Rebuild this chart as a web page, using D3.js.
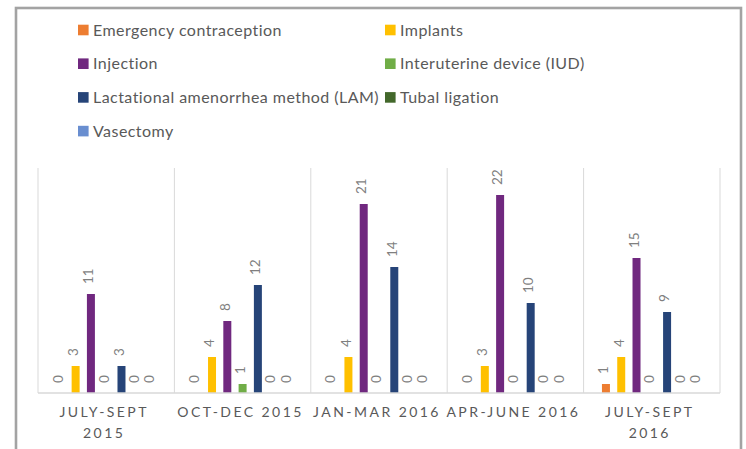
<!DOCTYPE html>
<html lang="en">
<head>
<meta charset="UTF-8">
<title>Contraception methods by quarter</title>
<script src="https://d3js.org/d3.v7.min.js"></script>
<style>
    body { margin: 0; background: #fff; }
    text { font-family: Lato, "Open Sans", sans-serif; }
</style>
</head>
<body>
<script>
    // data
    const quarters = [["JULY-SEPT", "2015"], ["OCT-DEC 2015"], ["JAN-MAR 2016"], ["APR-JUNE 2016"], ["JULY-SEPT", "2016"]];
    const seriesNames = ["Emergency contraception", "Implants", "Injection", "Interuterine device (IUD)",
        "Lactational amenorrhea method (LAM)", "Tubal ligation", "Vasectomy"];
    const seriesColors = ["#ED7D31", "#FFC000", "#70287F", "#70AD47", "#264478", "#43682B", "#698ED0"];
    const emergency = [0, 0, 0, 0, 1];
    const implants = [3, 4, 4, 3, 4];
    const injection = [11, 8, 21, 22, 15];
    const iud = [0, 1, 0, 0, 0];
    const lam = [3, 12, 14, 10, 9];
    const tubal = [0, 0, 0, 0, 0];
    const vasectomy = [0, 0, 0, 0, 0];
    const values = [emergency, implants, injection, iud, lam, tubal, vasectomy];

    const width = 746, height = 449;
    const svg = d3.select("body").append("svg").attr("width", width).attr("height", height);

    // chart frame
    svg.append("rect").attr("x", 16).attr("y", 8).attr("width", 725).attr("height", 460)
        .attr("fill", "none").attr("stroke", "#a3a3a3").attr("stroke-width", 2.6);

    // legend, two columns
    const legend = svg.append("g");
    seriesNames.forEach((name, i) => {
        const lx = i % 2 === 0 ? 78 : 385, ly = 30 + Math.floor(i / 2) * 33.7;
        legend.append("rect").attr("x", lx).attr("y", ly - 5.3).attr("width", 10.6).attr("height", 10.6).attr("fill", seriesColors[i]);
        legend.append("text").attr("x", lx + 15).attr("y", ly).attr("dy", "0.36em")
            .attr("font-size", 16).attr("letter-spacing", "0.45px").attr("fill", "#595959").text(name);
    });

    const x0 = d3.scaleBand().domain(d3.range(quarters.length)).range([38, 720]);
    const x1 = d3.scaleBand().domain(d3.range(seriesNames.length)).range([0, x0.bandwidth()])
        .paddingInner(0.477).paddingOuter(1.2);
    const y = d3.scaleLinear().domain([0, 25]).range([393, 168]);

    // vertical category separators
    svg.append("g").selectAll("line")
        .data(d3.range(quarters.length + 1))
        .enter().append("line")
        .attr("x1", d => d < quarters.length ? x0(d) : x0(d - 1) + x0.bandwidth())
        .attr("x2", d => d < quarters.length ? x0(d) : x0(d - 1) + x0.bandwidth())
        .attr("y1", y(25)).attr("y2", y(0))
        .attr("stroke", "#d9d9d9").attr("stroke-width", 1);

    const cells = [];
    values.forEach((vals, s) => vals.forEach((v, q) => cells.push({ s, q, v })));

    svg.append("g").selectAll("rect")
        .data(cells)
        .enter().append("rect")
        .attr("x", d => x0(d.q) + x1(d.s))
        .attr("y", d => y(d.v))
        .attr("width", x1.bandwidth())
        .attr("height", d => y(0) - y(d.v))
        .attr("fill", d => seriesColors[d.s]);

    // baseline
    svg.append("line").attr("x1", 38).attr("x2", 720).attr("y1", y(0)).attr("y2", y(0))
        .attr("stroke", "#d9d9d9").attr("stroke-width", 1.5);

    // rotated value labels
    svg.append("g").selectAll("text")
        .data(cells)
        .enter().append("text")
        .attr("transform", d => `translate(${x0(d.q) + x1(d.s) + x1.bandwidth() / 2 + 2.3},${y(d.v) - 10}) rotate(-90)`)
        .attr("font-size", 13.5)
        .attr("fill", "#7f7f7f")
        .text(d => d.v);

    // category labels
    const xAxis = svg.append("g");
    quarters.forEach((lines, q) => {
        const t = xAxis.append("text").attr("text-anchor", "middle")
            .attr("font-size", 14).attr("fill", "#595959").attr("letter-spacing", "2.45px");
        lines.forEach((line, i) => {
            t.append("tspan").attr("x", x0(q) + x0.bandwidth() / 2 - 2).attr("y", 417.3 + i * 20.5).text(line);
        });
    });
</script>
</body>
</html>
